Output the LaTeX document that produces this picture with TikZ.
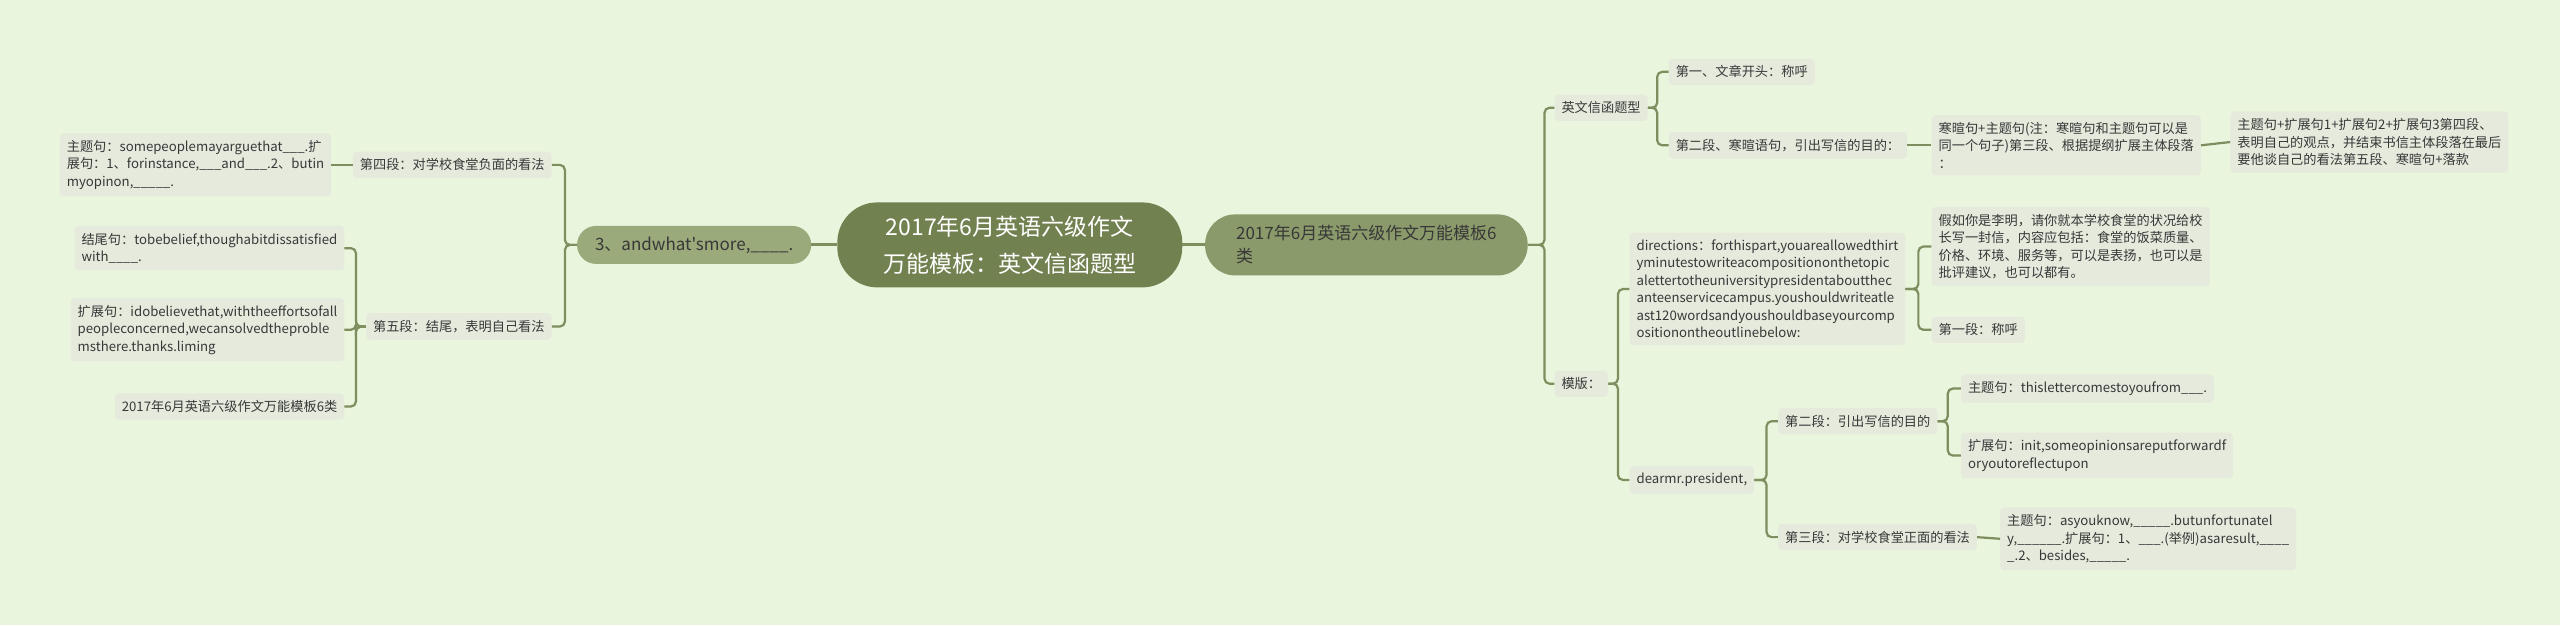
\documentclass[tikz,border=0pt]{standalone}
\usepackage{fontspec}
\newfontfamily\cjk{Noto Sans CJK SC}
\usetikzlibrary{calc}
\definecolor{bgc}{HTML}{E9F5DC}
\definecolor{leafc}{HTML}{E5EADD}
\definecolor{centc}{HTML}{728150}
\definecolor{mainc}{HTML}{8A9A6A}
\definecolor{sidec}{HTML}{9BAA7B}
\definecolor{linec}{HTML}{7F8E5F}
\definecolor{txt}{HTML}{383838}
\tikzset{
  leaf/.style={fill=leafc, rounded corners=4pt, inner xsep=7pt, inner ysep=7pt, align=left, text=txt,
    font=\cjk\fontsize{13.2}{17.5}\selectfont},
  link/.style={draw=linec, line width=2.2pt, rounded corners=5pt},
  mainlink/.style={draw=linec, line width=3pt},
}
\begin{document}
\begin{tikzpicture}[x=1.633pt,y=-1.633pt]
\fill[bgc] (0,0) rectangle (1568,383);
\useasboundingbox (0,0) rectangle (1568,383);

% central and main nodes
\node[fill=centc, rounded corners=40pt, minimum width=345pt, minimum height=85pt, align=center, text=white,
  font=\cjk\fontsize{23}{37}\selectfont] (c) at (618.5,150) {2017年6月英语六级作文\\万能模板：英文信函题型};
\node[fill=mainc, rounded corners=30pt, anchor=west, minimum height=61pt, inner xsep=31pt, inner ysep=8pt, align=left, text=txt,
  font=\cjk\fontsize{17}{23}\selectfont] (r) at (738,150) {2017年6月英语六级作文万能模板6\\类};
\node[fill=sidec, rounded corners=19pt, anchor=east, minimum height=38pt, inner xsep=18pt, text=txt,
  font=\cjk\fontsize{17}{22}\selectfont] (l) at (497,150) {3、andwhat'smore,\_\_\_\_.};

% right side
\node[leaf,anchor=west] (r1) at (952,66) {英文信函题型};
\node[leaf,anchor=west] (r11) at (1022,44) {第一、文章开头：称呼};
\node[leaf,anchor=west] (r12) at (1022,89) {第二段、寒暄语句，引出写信的目的：};
\node[leaf,anchor=west] (r121) at (1183,89) {寒暄句+主题句(注：寒暄句和主题句可以是\\同一个句子)第三段、根据提纲扩展主体段落\\：};
\node[leaf,anchor=west] (r1211) at (1366,87) {主题句+扩展句1+扩展句2+扩展句3第四段、\\表明自己的观点，并结束书信主体段落在最后\\要他谈自己的看法第五段、寒暄句+落款};

\node[leaf,anchor=west] (r2) at (952,235) {模版：};
\node[leaf,anchor=west] (r21) at (998,177) {directions：forthispart,youareallowedthirt\\yminutestowriteacompositiononthetopic\\alettertotheuniversitypresidentaboutthec\\anteenservicecampus.youshouldwriteatle\\ast120wordsandyoushouldbaseyourcomp\\ositionontheoutlinebelow:};
\node[leaf,anchor=west] (r211) at (1183,151) {假如你是李明，请你就本学校食堂的状况给校\\长写一封信，内容应包括：食堂的饭菜质量、\\价格、环境、服务等，可以是表扬，也可以是\\批评建议，也可以都有。};
\node[leaf,anchor=west] (r212) at (1183,202) {第一段：称呼};
\node[leaf,anchor=west] (r22) at (998,294) {dearmr.president,};
\node[leaf,anchor=west] (r221) at (1089,258) {第二段：引出写信的目的};
\node[leaf,anchor=west] (r2211) at (1201,238) {主题句：thislettercomestoyoufrom\_\_\_.};
\node[leaf,anchor=west] (r2212) at (1201,279) {扩展句：init,someopinionsareputforwardf\\oryoutoreflectupon};
\node[leaf,anchor=west] (r222) at (1089,329) {第三段：对学校食堂正面的看法};
\node[leaf,anchor=west] (r2221) at (1225,330) {主题句：asyouknow,\_\_\_\_\_.butunfortunatel\\y,\_\_\_\_\_\_.扩展句：1、\_\_\_.(举例)asaresult,\_\_\_\_\\\_.2、besides,\_\_\_\_\_.};

% left side
\node[leaf,anchor=east] (l1) at (338,101) {第四段：对学校食堂负面的看法};
\node[leaf,anchor=east] (l11) at (203,101) {主题句：somepeoplemayarguethat\_\_\_.扩\\展句：1、forinstance,\_\_\_and\_\_\_.2、butin\\myopinon,\_\_\_\_\_.};
\node[leaf,anchor=east] (l2) at (338,200) {第五段：结尾，表明自己看法};
\node[leaf,anchor=east] (l21) at (211,152) {结尾句：tobebelief,thoughabitdissatisfied\\with\_\_\_\_.};
\node[leaf,anchor=east] (l22) at (211,202) {扩展句：idobelievethat,withtheeffortsofall\\peopleconcerned,wecansolvedtheproble\\msthere.thanks.liming};
\node[leaf,anchor=east] (l23) at (211,249) {2017年6月英语六级作文万能模板6类};

% trunk coordinates
\coordinate (t0) at (946,150);
\coordinate (t1) at (1015,66);
\coordinate (t2) at (991,235);
\coordinate (t3) at ($(r211.west |- r21.west)+(-8,0)$);
\coordinate (t4) at ($(r221.west |- r22.west)+(-7,0)$);
\coordinate (t5) at ($(r2211.west |- r221.west)+(-8,0)$);
\coordinate (t6) at (346,150);
\coordinate (t7) at (218,200);

% connectors
\draw[mainlink] (c.east) -- (r.west);
\draw[mainlink] (c.west) -- (l.east);
\draw[link] (r.east) -- (t0) |- (r1.west);
\draw[link] (r.east) -- (t0) |- (r2.west);
\draw[link] (r1.east) -- (t1) |- (r11.west);
\draw[link] (r1.east) -- (t1) |- (r12.west);
\draw[link] (r12.east) -- (r121.west);
\draw[link] (r121.east) -- (r1211.west);
\draw[link] (r2.east) -- (t2) |- (r21.west);
\draw[link] (r2.east) -- (t2) |- (r22.west);
\draw[link] (r21.east) -- (t3) |- (r211.west);
\draw[link] (r21.east) -- (t3) |- (r212.west);
\draw[link] (r22.east) -- (t4) |- (r221.west);
\draw[link] (r22.east) -- (t4) |- (r222.west);
\draw[link] (r221.east) -- (t5) |- (r2211.west);
\draw[link] (r221.east) -- (t5) |- (r2212.west);
\draw[link] (r222.east) -- (r2221.west);
\draw[link] (l.west) -- (t6) |- (l1.east);
\draw[link] (l.west) -- (t6) |- (l2.east);
\draw[link] (l1.west) -- (l11.east);
\draw[link] (l2.west) -- (t7) |- (l21.east);
\draw[link] (l2.west) -- (t7) |- (l22.east);
\draw[link] (l2.west) -- (t7) |- (l23.east);
\end{tikzpicture}
\end{document}
